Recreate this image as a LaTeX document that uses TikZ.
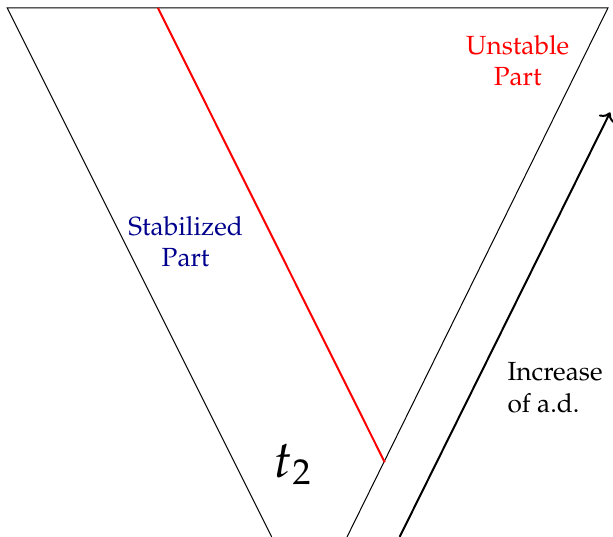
\documentclass[tikz,border=0pt]{standalone}
\usepackage[T1]{fontenc}
\usepackage{mathpazo}
\usepackage{xcolor}
\usepackage{tikz}
\usetikzlibrary{arrows.meta, positioning, calc}

\begin{document}
\begin{tikzpicture}[
        edge/.style={black, line width=0.4pt},
        cut/.style={red, line width=0.8pt},
        growth/.style={->, black, line width=0.8pt},
        lbl/.style={align=center, inner sep=0pt, font=\fontsize{10.5}{12.6}\selectfont}
    ]
    \useasboundingbox (0,0) rectangle (8.62,7.55);

    % corners of the cone
    \coordinate (tl) at (0.10, 7.44);
    \coordinate (tr) at (8.55, 7.44);
    \coordinate (bl) at (3.82, 0);
    \coordinate (br) at (4.88, 0);

    % cone
    \draw[edge] (bl) -- (tl) -- (tr) -- (br);

    % boundary between the two parts
    \coordinate (rtop) at (2.22, 7.44);
    \coordinate (rbot) at (5.41, 1.05);
    \draw[cut] (rtop) -- (rbot);

    % labels
    \node[lbl, red] (unstable) at (7.28, 6.70) {Unstable\\Part};
    \node[lbl, blue!55!black] (stable) at (2.61, 4.15) {Stabilized\\Part};
    \node[inner sep=0pt] (time) at (4.12, 1.02) {\huge$t_2$};

    % direction of increase
    \coordinate (astart) at (5.62, 0);
    \coordinate (aend) at (8.58, 5.97);
    \draw[growth] (astart) -- (aend);
    \node[lbl, align=left, anchor=west] (incr) at (7.13, 2.1) {Increase\\of a.d.};
\end{tikzpicture}
\end{document}
